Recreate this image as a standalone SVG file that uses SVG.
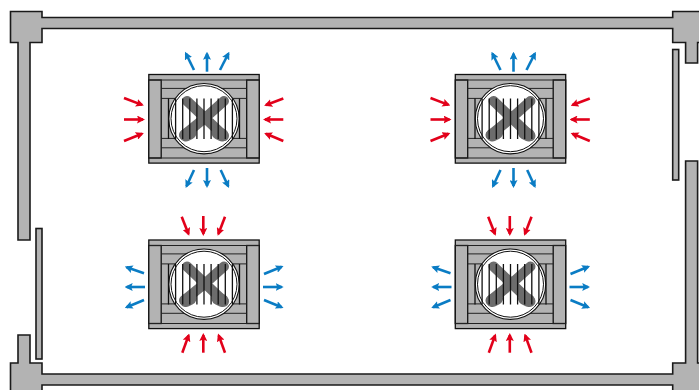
<svg xmlns="http://www.w3.org/2000/svg" width="699" height="390" viewBox="0 0 699 390">
<style>
.wall{fill:#b3b3b3;stroke:#1a1a1a;stroke-width:1.6;stroke-linejoin:miter}
.u{fill:#b3b3b3;stroke:#111;stroke-width:1.3}
.side{fill:#b3b3b3;stroke:#111;stroke-width:1.3}
.ln{stroke:#222;stroke-width:1;fill:none}
.bar{stroke:#111;stroke-width:1.3;fill:none}
.blade{stroke:#6c6c6c;stroke-width:10;stroke-linecap:round;fill:none}
.tip{stroke:#6c6c6c;stroke-width:13;stroke-linecap:round;fill:none}
.cold{stroke:#0a7cc4;stroke-width:2.6;fill:none;marker-end:url(#mb)}
.hot{stroke:#e2001a;stroke-width:2.6;fill:none;marker-end:url(#mr)}
</style>
<defs>
<marker id="mb" markerUnits="userSpaceOnUse" viewBox="0 0 8 8" markerWidth="8" markerHeight="8" refX="6" refY="4" orient="auto"><path d="M0,0L8,4L0,8L1.5,4Z" fill="#0a7cc4"/></marker>
<marker id="mr" markerUnits="userSpaceOnUse" viewBox="0 0 8 8" markerWidth="8" markerHeight="8" refX="6" refY="4" orient="auto"><path d="M0,0L8,4L0,8L1.5,4Z" fill="#e2001a"/></marker>
<g id="unit">
<rect class="u" x="148.8" y="74.5" width="110.4" height="88.6"/>
<rect class="side" x="148.8" y="80" width="12.4" height="78"/>
<rect class="side" x="246.7" y="80" width="12.5" height="78"/>
<path class="ln" d="M148.8,80H259.2M148.8,158H259.2M161.2,88.4H246.7M161.2,98.4H246.7M161.2,138.4H246.7M161.2,147.8H246.7"/>
<circle cx="204" cy="118.7" r="35.2" fill="#fff" stroke="#111" stroke-width="1.1"/>
<circle cx="204" cy="118.7" r="33" fill="#fff" stroke="#111" stroke-width="1"/>
<path class="blade" d="M187,101L205,118L224,136M224,101L205,118L184,135"/>
<path class="tip" d="M186,135L190,133M222,135L218,133"/>
<path class="bar" d="M168.5,98.4V139M175.6,98.4V139M182.7,98.4V139M189.8,98.4V139M196.9,98.4V139M204,98.4V139M211.1,98.4V139M218.2,98.4V139M225.3,98.4V139M232.4,98.4V139M239.5,98.4V139"/>
</g>
</defs>
<g id="walls">
<path id="wall-top" class="wall" d="M10.5,11.5H42V17.5H672.7V11.5H700V42.5H697.6V63H685.6V42.5H672.7V28.5H42V42.5H30V240H18V42.5H10.5Z"/>
<path id="wall-bottom" class="wall" d="M10.5,392V363H18V335H30V363H42V374H672.7V363H685.6V161H697.6V363H700V392H672.7V385H42V392Z"/>
<rect id="panel-left" class="wall" x="36" y="228.5" width="6" height="130.5"/>
<rect id="panel-right" class="wall" x="672.7" y="49.5" width="6" height="130.5"/>
</g>
<g id="node-1"><use href="#unit"/></g>
<g id="node-2" transform="translate(306.5,0)"><use href="#unit"/></g>
<g id="node-3" transform="translate(0,165.5)"><use href="#unit"/></g>
<g id="node-4" transform="translate(306.5,165.5)"><use href="#unit"/></g>
<g id="connectors">
<g id="arrows-1">
<path class="cold" d="M194,70L185.9,53.5"/><path class="cold" d="M207,71.7V53.7"/><path class="cold" d="M220,70L228.4,53.5"/>
<path class="cold" d="M194,170L186.5,186.2"/><path class="cold" d="M207,168V186"/><path class="cold" d="M220.7,170L228.2,186.2"/>
<path class="hot" d="M124,98L142,104.9"/><path class="hot" d="M124,119.5H143"/><path class="hot" d="M124,141L142,133.8"/>
<path class="hot" d="M283.3,98.5L266,105"/><path class="hot" d="M283.3,119.5H265"/><path class="hot" d="M283.3,141L266,133.8"/>
</g>
<use href="#arrows-1" x="306.5"/>
<g id="arrows-3">
<path class="hot" d="M181.7,216.7L188.5,234"/><path class="hot" d="M203.3,216V234"/><path class="hot" d="M225,216.7L218.4,234"/>
<path class="hot" d="M182.3,352.7L188.6,335.4"/><path class="hot" d="M203.3,352.7V335"/><path class="hot" d="M225,352.7L218.7,335.4"/>
<path class="cold" d="M144,273.3L126.6,267.2"/><path class="cold" d="M145,287H126.7"/><path class="cold" d="M144,300L126.6,307.2"/>
<path class="cold" d="M264,274L281.7,266.8"/><path class="cold" d="M263,287H281.7"/><path class="cold" d="M264,300L281.7,307.2"/>
</g>
<use href="#arrows-3" x="306.5"/>
</g>
</svg>
